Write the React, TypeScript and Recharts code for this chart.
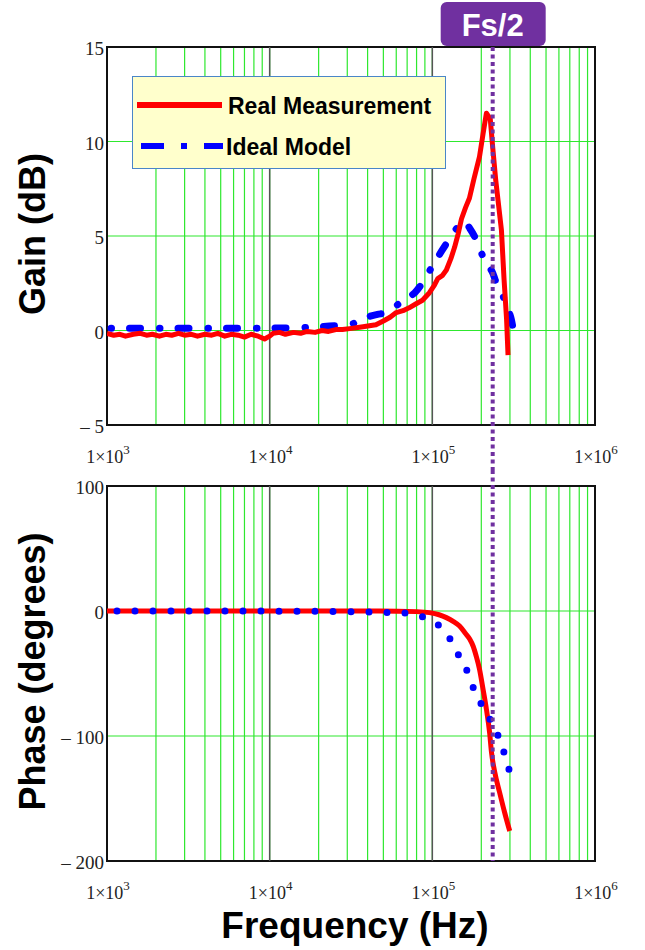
import React from "react";
import {
  LineChart,
  Line,
  XAxis,
  YAxis,
  CartesianGrid,
  ReferenceLine,
  ReferenceArea,
  Legend,
  Label
} from "recharts";

// gain (dB) – measured
const realGainFreq = [
  1000, 1100, 1200, 1300, 1450, 1600, 1750, 1900, 2100, 2300, 2500, 2750, 3000, 3300, 3600, 4000,
  4400, 4800, 5300, 5800, 6400, 7000, 7700, 8500, 9300, 10000, 10500, 11500, 12500, 14000, 15500,
  17000, 19000, 21000, 23000, 25500, 28000, 31000, 34000, 37500, 41000, 45000, 50000, 55000, 60000,
  66000, 72000, 79000, 87000, 96000, 103000, 108000, 115000, 122000, 130000, 137000, 144000, 151000,
  160000, 169000, 180000, 195000, 205000, 215000, 227000, 235000, 245000, 266000, 276000, 286000, 292000
];
const realGain = [
  -0.15, -0.25, -0.2, -0.3, -0.2, -0.15, -0.25, -0.2, -0.3, -0.2, -0.25, -0.15, -0.25, -0.2, -0.3, -0.2,
  -0.25, -0.15, -0.3, -0.2, -0.25, -0.35, -0.2, -0.3, -0.45, -0.3, -0.15, -0.1, -0.2, -0.1, -0.15,
  -0.05, -0.1, 0.0, -0.05, 0.05, 0.05, 0.1, 0.15, 0.2, 0.25, 0.3, 0.5, 0.7, 0.95,
  1.05, 1.2, 1.4, 1.6, 2.0, 2.4, 2.75, 2.9, 3.2, 3.8, 4.4, 5.1, 5.9,
  6.5, 7.0, 8.0, 9.2, 10.4, 11.5, 11.2, 9.7, 8.0, 5.3, 2.7, 0.6, -1.3
];

// gain (dB) – ideal model
const idealGainFreq = [
  1000, 2000, 5000, 10000, 15000, 20000, 25000, 31000, 36000, 41000, 46000, 52000, 58000, 64000,
  71000, 78000, 85000, 92000, 103000, 116000, 125000, 134000, 145000, 158000, 170000, 186000,
  198000, 209000, 222000, 234000, 252000, 270000, 285000, 306000, 313000
];
const idealGain = [
  0.12, 0.12, 0.12, 0.13, 0.15, 0.2, 0.25, 0.32, 0.5, 0.74, 0.85, 0.95, 1.2, 1.5,
  1.75, 2.0, 2.4, 2.87, 3.6, 4.3, 4.75, 5.17, 5.5, 5.75, 5.4, 4.8,
  4.2, 3.76, 3.4, 3.08, 2.33, 1.9, 1.29, 0.58, 0.16
];

// phase (degrees) – measured
const realPhaseFreq = [
  1000, 10000, 47000, 80000, 96000, 110000, 122000, 135000, 147000, 160000, 170000, 178000, 186000,
  195000, 205000, 215000, 225000, 231000, 242000, 259000, 278000, 299000
];
const realPhase = [
  0, 0, 0, -0.5, -1.3, -3, -5.3, -8.5, -12, -18, -22.6, -28, -36,
  -46.6, -62.6, -78.6, -97.3, -113, -129, -145, -161, -176
];

// phase (degrees) – ideal model
const idealPhaseFreq = [
  1000, 10000, 30000, 56500, 71800, 87500, 105000, 121000, 133000, 146000, 160000, 171000, 185000,
  203000, 223000, 245000, 262000, 288000, 306000
];
const idealPhase = [
  0, -0.1, -0.5, -1.3, -1.8, -4.8, -9.8, -17, -25.8, -36, -44.8, -55.4, -66,
  -76, -85.3, -94.6, -105, -121, -134
];

const gainTicks = [-5, 0, 5, 10, 15];
const phaseTicks = [-200, -100, 0, 100];
const decadeExponents = [3, 4, 5, 6];
const minorSteps = [1, 2, 3, 4, 5, 6, 7, 8, 9];
const innerDecades = [10000, 100000];
const legendNames = ["Real Measurement", "Ideal Model"];
const fsHalf = 235000;

const GREEN = "#2ee82e";
const RED = "#ff0000";
const BLUE = "#0000ff";
const PURPLE = "#7030a0";
const SERIF = "'Liberation Serif', 'Times New Roman', serif";
const SANS = "'Liberation Sans', Arial, sans-serif";

function mergeSeries(fa: number[], va: number[], fb: number[], vb: number[]) {
  const rows = new Map<number, any>();
  fa.forEach((f, i) => rows.set(f, { ...(rows.get(f) || { freq: f }), real: va[i] }));
  fb.forEach((f, i) => rows.set(f, { ...(rows.get(f) || { freq: f }), ideal: vb[i] }));
  return [...rows.values()].sort((a, b) => a.freq - b.freq);
}

const gainData = mergeSeries(realGainFreq, realGain, idealGainFreq, idealGain);
const phaseData = mergeSeries(realPhaseFreq, realPhase, idealPhaseFreq, idealPhase);

const freqTicks = decadeExponents
  .slice(0, -1)
  .flatMap((e) => minorSteps.map((m) => m * 10 ** e))
  .concat(10 ** decadeExponents[decadeExponents.length - 1]);

const fmtY = (v: number) => (v < 0 ? `\u2013 ${-v}` : `${v}`);

const FreqTick = ({ x, y, payload }: any) => {
  const e = Math.log10(payload.value);
  if (Math.abs(e - Math.round(e)) > 1e-6) return null;
  return (
    <text x={x + 1} y={y + 38} textAnchor="middle" fontFamily={SERIF} fontSize={18} fill="#222">
      1×10
      <tspan dy={-9} fontSize={13}>
        {Math.round(e)}
      </tspan>
    </text>
  );
};

const ValueTick = ({ x, y, payload }: any) => (
  <text x={x - 3} y={y + 8} textAnchor="end" fontFamily={SERIF} fontSize={19} fill="#222">
    {fmtY(payload.value)}
  </text>
);

const sideLabel = (text: string) => ({ viewBox }: any) => {
  const cy = viewBox.y + viewBox.height / 2 - 2;
  return (
    <text
      x={45}
      y={cy}
      transform={`rotate(-90 45 ${cy})`}
      textAnchor="middle"
      fontFamily={SANS}
      fontWeight="bold"
      fontSize={36}
      fill="#000"
    >
      {text}
    </text>
  );
};

const FsBadge = ({ viewBox }: any) => {
  const cx = viewBox.x;
  const top = viewBox.y;
  return (
    <g>
      <rect x={cx - 52} y={top - 45} width={105} height={44} rx={6} fill={PURPLE} />
      <text
        x={cx}
        y={top - 22}
        textAnchor="middle"
        dominantBaseline="central"
        fill="#fff"
        fontFamily={SANS}
        fontWeight="bold"
        fontSize={31}
      >
        Fs/2
      </text>
    </g>
  );
};

const LegendBox = () => (
  <div
    style={{
      width: 314,
      height: 93,
      background: "#ffffcc",
      border: "1.5px solid #4a86c8",
      boxSizing: "border-box",
      position: "relative"
    }}
  >
    <svg width={314} height={93} style={{ position: "absolute", left: -1.5, top: -1.5 }}>
      <line x1={5} x2={90} y1={29} y2={29} stroke={RED} strokeWidth={6} />
      <line x1={9} x2={32} y1={70} y2={70} stroke={BLUE} strokeWidth={6} />
      <line x1={49} x2={55} y1={70} y2={70} stroke={BLUE} strokeWidth={6} />
      <line x1={72} x2={91} y1={70} y2={70} stroke={BLUE} strokeWidth={6} />
      <text x={96} y={30} dominantBaseline="central" fontFamily={SANS} fontWeight="bold" fontSize={23} fill="#000">
        {legendNames[0]}
      </text>
      <text x={94} y={71} dominantBaseline="central" fontFamily={SANS} fontWeight="bold" fontSize={23} fill="#000">
        {legendNames[1]}
      </text>
    </svg>
  </div>
);

export default function App() {
  return (
    <div style={{ position: "absolute", left: 0, top: 0, width: 645, height: 950, background: "#fff" }}>
      <div style={{ position: "absolute", left: 0, top: 0 }}>
        <LineChart width={645} height={470} data={gainData} margin={{ top: 47, right: 50, bottom: 0, left: 47 }}>
          <CartesianGrid stroke={GREEN} strokeWidth={1.2} />
          <XAxis
            dataKey="freq"
            type="number"
            scale="log"
            domain={[1000, 1000000]}
            allowDataOverflow
            ticks={freqTicks}
            interval={0}
            tick={<FreqTick />}
            tickLine={false}
            axisLine={false}
            tickSize={0}
            tickMargin={0}
            height={45}
          />
          <YAxis
            type="number"
            domain={[-5, 15]}
            ticks={gainTicks}
            interval={0}
            tick={<ValueTick />}
            tickLine={false}
            axisLine={false}
            tickSize={0}
            tickMargin={0}
            width={60}
          >
            <Label content={sideLabel("Gain (dB)")} />
          </YAxis>
          {innerDecades.map((d) => (
            <ReferenceLine key={d} x={d} stroke="#555" strokeWidth={1.5} />
          ))}
          <ReferenceArea x1={1000} x2={1000000} y1={-5} y2={15} fill="none" stroke="#111" strokeWidth={2} />
          <Legend
            layout="vertical"
            align="center"
            verticalAlign="middle"
            content={<LegendBox />}
            wrapperStyle={{ position: "absolute", left: 132, top: 76, width: 314, height: 93 }}
          />
          <Line
            dataKey="ideal"
            type="monotone"
            stroke={BLUE}
            strokeWidth={7}
            strokeLinecap="round"
            strokeDasharray="0.5 18 11 19"
            strokeDashoffset={-4}
            dot={false}
            connectNulls
            isAnimationActive={false}
          />
          <Line
            dataKey="real"
            type="linear"
            stroke={RED}
            strokeWidth={5}
            strokeLinejoin="round"
            dot={false}
            connectNulls
            isAnimationActive={false}
          />
          <ReferenceLine
            segment={[
              { x: fsHalf, y: 15 },
              { x: fsHalf, y: -7.4 }
            ]}
            ifOverflow="visible"
            stroke={PURPLE}
            strokeWidth={4}
            strokeDasharray="4 3.5"
            label={<FsBadge />}
          />
        </LineChart>
      </div>
      <div style={{ position: "absolute", left: 0, top: 470 }}>
        <LineChart width={645} height={480} data={phaseData} margin={{ top: 16, right: 50, bottom: 0, left: 47 }}>
          <CartesianGrid stroke={GREEN} strokeWidth={1.2} />
          <XAxis
            dataKey="freq"
            type="number"
            scale="log"
            domain={[1000, 1000000]}
            allowDataOverflow
            ticks={freqTicks}
            interval={0}
            tick={<FreqTick />}
            tickLine={false}
            axisLine={false}
            tickSize={0}
            tickMargin={0}
            height={89}
          >
            <Label
              content={({ viewBox }: any) => (
                <text
                  x={viewBox.x + viewBox.width / 2 + 4}
                  y={viewBox.y + 77}
                  textAnchor="middle"
                  fontFamily={SANS}
                  fontWeight="bold"
                  fontSize={37}
                  fill="#000"
                >
                  Frequency (Hz)
                </text>
              )}
            />
          </XAxis>
          <YAxis
            type="number"
            domain={[-200, 100]}
            ticks={phaseTicks}
            interval={0}
            tick={<ValueTick />}
            tickLine={false}
            axisLine={false}
            tickSize={0}
            tickMargin={0}
            width={60}
          >
            <Label content={sideLabel("Phase (degrees)")} />
          </YAxis>
          {innerDecades.map((d) => (
            <ReferenceLine key={d} x={d} stroke="#555" strokeWidth={1.5} />
          ))}
          <ReferenceArea x1={1000} x2={1000000} y1={-200} y2={100} fill="none" stroke="#111" strokeWidth={2} />
          <Line
            dataKey="real"
            type="monotone"
            stroke={RED}
            strokeWidth={5}
            dot={false}
            connectNulls
            isAnimationActive={false}
          />
          <Line
            dataKey="ideal"
            type="monotone"
            stroke={BLUE}
            strokeWidth={7}
            strokeLinecap="round"
            strokeDasharray="0 18"
            strokeDashoffset={-10}
            dot={false}
            connectNulls
            isAnimationActive={false}
          />
          <ReferenceLine
            segment={[
              { x: fsHalf, y: 112.8 },
              { x: fsHalf, y: -200 }
            ]}
            ifOverflow="visible"
            stroke={PURPLE}
            strokeWidth={4}
            strokeDasharray="4 3.5"
          />
        </LineChart>
      </div>
    </div>
  );
}
